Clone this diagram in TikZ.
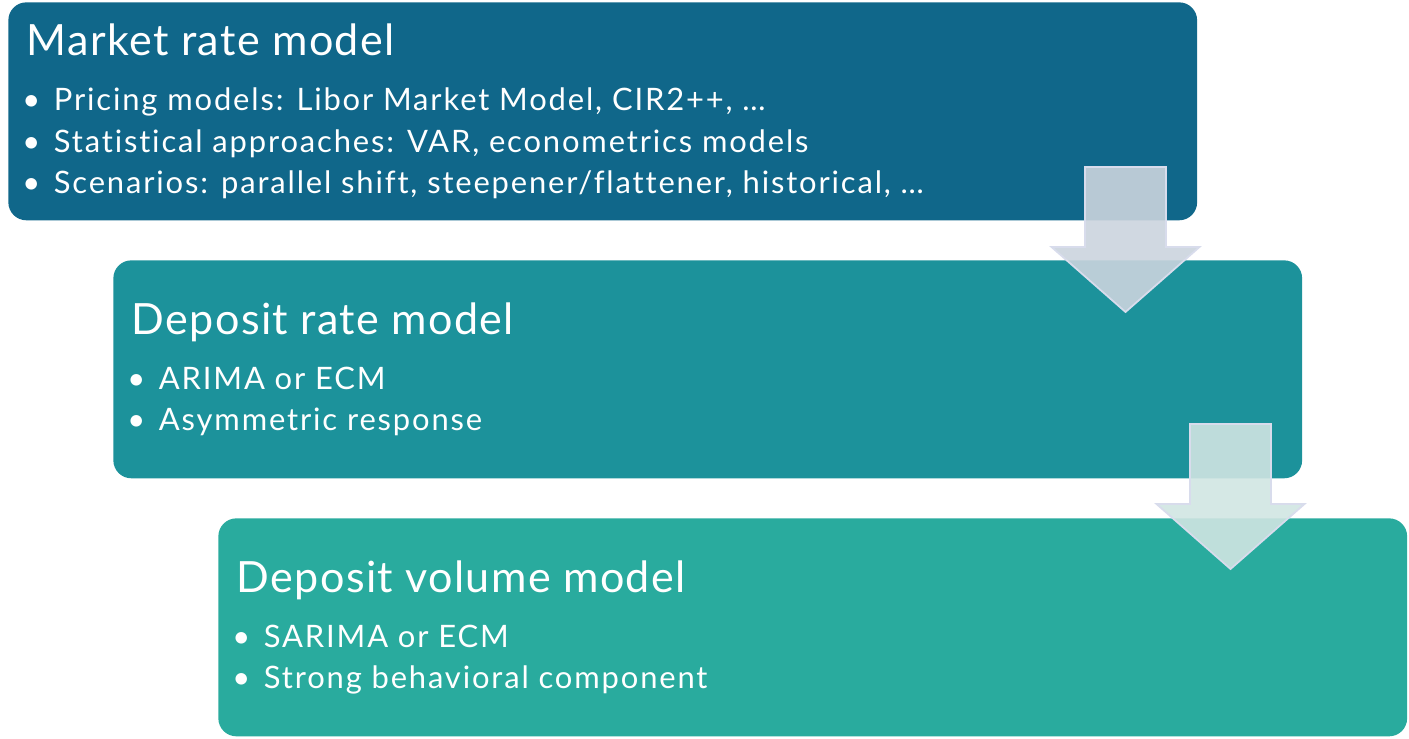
\documentclass[tikz,border=0pt]{standalone}
\usepackage{fontspec}
\setmainfont{Lato}[Ligatures=NoCommon]
\newfontfamily\itemface{Lato}[Ligatures=NoCommon,LetterSpace=6.0]
\newfontfamily\titleface{Lato}[Ligatures=NoCommon,LetterSpace=3.2]
\usepackage{tikz}
\usetikzlibrary{positioning}
\definecolor{marketblue}{RGB}{16,103,138}
\definecolor{ratecyan}{RGB}{28,146,155}
\definecolor{volumeteal}{RGB}{41,171,158}
\definecolor{arrowgrey}{RGB}{203,212,222}
\definecolor{arrowmint}{RGB}{208,229,226}
\definecolor{arrowedge}{RGB}{216,220,236}
\def\flowarrow[#1](#2,#3) {\draw[#1] ({#2-40.5},#3) -- ({#2+40.5},#3) -- ({#2+40.5},{#3+80}) -- ({#2+74},{#3+80}) -- (#2,{#3+145}) -- ({#2-74},{#3+80}) -- ({#2-40.5},{#3+80}) -- cycle;}
\def\titlefont{\titleface\fontsize{24.5}{30}\selectfont}
\def\bul{\makebox[15.4pt][l]{\hspace{-2.6pt}\textbullet}}

\begin{document}
\begin{tikzpicture}[x=0.02cm,y=-0.02cm,
	modelbox/.style={rounded corners=0.36cm,minimum width=23.78cm,minimum height=4.36cm,anchor=north west,inner sep=0},
	modeltext/.style={text=white,align=left,inner sep=0,anchor=west,font=\itemface\fontsize{17.6}{23.6}\selectfont}]
	\useasboundingbox (0,0) rectangle (1409,739);
	
	%BOXES
	\node[modelbox,fill=marketblue] (market) at (8,2) {};
	\node[modelbox,fill=ratecyan] (rate) at (113,260) {};
	\node[modelbox,fill=volumeteal] (volume) at (218,518) {};
	
	%TEXTS
	\node[modeltext,right=0.37cm of market.west] (markettext) {{\titlefont Market rate model}\\[7.7pt]
		\bul Pricing models: Libor Market Model, CIR2++, …\\
		\bul Statistical approaches: VAR, econometrics models\\
		\bul Scenarios: parallel shift, steepener/flattener, historical, …};
	\node[modeltext,right=0.37cm of rate.west] (ratetext) {{\titlefont Deposit rate model}\\[7.7pt]
		\bul ARIMA or ECM\\
		\bul Asymmetric response};
	\node[modeltext,right=0.37cm of volume.west] (volumetext) {{\titlefont Deposit volume model}\\[7.7pt]
		\bul SARIMA or ECM\\
		\bul Strong behavioral component};
	
	%ARROWS
	\flowarrow[fill=arrowgrey,fill opacity=0.9,draw=arrowedge,line width=1pt](1125.5,167)
	\flowarrow[fill=arrowmint,fill opacity=0.9,draw=arrowedge,line width=1pt](1230.5,424)
\end{tikzpicture}
\end{document}
